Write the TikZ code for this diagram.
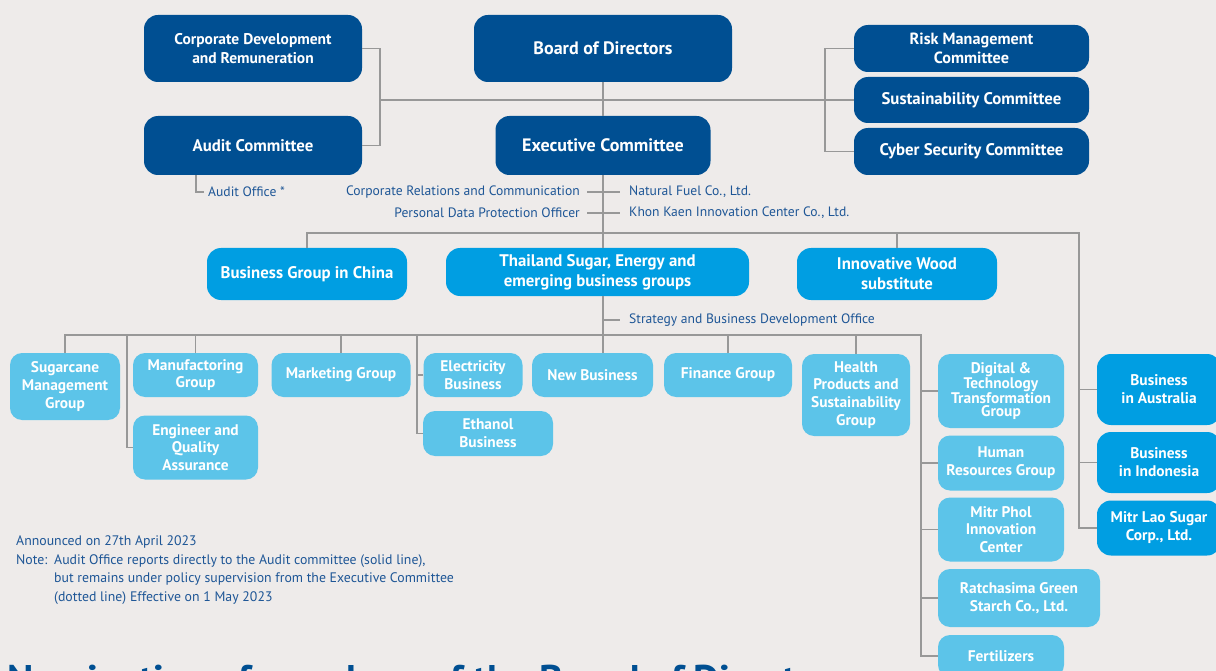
\documentclass[tikz,border=0pt]{standalone}
\usepackage{fontspec}
\setmainfont{PT Sans}
\usetikzlibrary{positioning}

\definecolor{bgcol}{RGB}{238,235,234}
\definecolor{dkblue}{RGB}{0,79,146}
\definecolor{mdblue}{RGB}{0,158,226}
\definecolor{ltblue}{RGB}{92,196,233}
\definecolor{linegrey}{RGB}{152,152,152}
\definecolor{txtblue}{RGB}{30,86,150}

\tikzset{
  orgbox/.style={rounded corners=14pt, text=white, align=center, inner sep=0pt,
    font=\bfseries\fontsize{16.8}{19}\selectfont},
  board/.style={orgbox, fill=dkblue},
  unit/.style={orgbox, fill=mdblue, font=\bfseries\fontsize{16.8}{20}\selectfont},
  group/.style={orgbox, fill=ltblue, rounded corners=12pt,
    font=\bfseries\fontsize{15.4}{17.8}\selectfont},
  sz/.style 2 args={minimum width=#1pt, minimum height=#2pt},
  link/.style={draw=linegrey, line width=1.3pt},
  office/.style={text=txtblue, inner sep=0pt, font=\fontsize{13.6}{15}\selectfont},
}

\begin{document}
\begin{tikzpicture}[x=1pt, y=-1pt]
\fill[bgcol] (0,0) rectangle (1216,671);
\clip (0,0) rectangle (1216,671);

% board and committees
\node[board, sz={258}{67}, font=\bfseries\fontsize{18}{20}\selectfont] (bod) at (603,48.5) {Board of Directors};
\node[board, sz={218}{67}, font=\bfseries\fontsize{15.5}{19}\selectfont] (cdr) at (253,48.5) {Corporate Development\\and Remuneration};
\node[board, sz={218}{59}] (aud) at (253,145.5) {Audit Committee};
\node[board, sz={215}{59}, font=\bfseries\fontsize{18}{20}\selectfont] (exe) at (603,145.5) {Executive Committee};
\node[board, sz={235}{47}, font=\bfseries\fontsize{16.2}{19}\selectfont] (rmc) at (971.5,48.5) {Risk Management\\Committee};
\node[board, sz={235}{46}] (sus) at (971.5,100) {Sustainability Committee};
\node[board, sz={235}{47}] (csc) at (971.5,151.5) {Cyber Security Committee};

\coordinate (lj) at (380,100);
\coordinate (rj) at (825,100);
\draw[link] (cdr.east) -| (lj) |- (aud.east);
\draw[link] (rmc.west) -| (rj) |- (csc.west);
\draw[link] (lj) -- (sus.west);
\draw[link] (bod.south) -- (exe.north);

% offices under the committees
\node[office, anchor=west] (aoff) at (208,192) {Audit Office *};
\draw[link] (aud.south -| 196,0) |- ([xshift=-4pt]aoff.west);

\node[office, anchor=east] (crc) at (580,192) {Corporate Relations and Communication};
\node[office, anchor=east] (pdp) at (580,213) {Personal Data Protection Officer};
\node[office, anchor=west] (nfc) at (629,192) {Natural Fuel Co., Ltd.};
\node[office, anchor=west] (kkic) at (629,213) {Khon Kaen Innovation Center Co., Ltd.};
\draw[link, shorten <=7pt, shorten >=9pt] (crc.east) -- (nfc.west);
\draw[link, shorten <=7pt, shorten >=9pt] (pdp.east) -- (kkic.west);

% business groups
\coordinate (spine) at (603,233);
\coordinate (rt) at (1079,233);
\node[unit, sz={200}{52}] (china) at (307,274) {Business Group in China};
\node[unit, sz={303}{48}] (tsg) at (597.5,272) {Thailand Sugar, Energy and\\emerging business groups};
\node[unit, sz={200}{52}] (iws) at (897,274) {Innovative Wood\\substitute};
\node[unit, sz={124}{71}, font=\bfseries\fontsize{15.4}{18}\selectfont] (aus) at (1159,389.5) {Business\\in Australia};
\node[unit, sz={124}{61}, font=\bfseries\fontsize{15.4}{18}\selectfont] (indo) at (1159,462.5) {Business\\in Indonesia};
\node[unit, sz={124}{55}, font=\bfseries\fontsize{15.4}{18}\selectfont] (laos) at (1159,528) {Mitr Lao Sugar\\Corp., Ltd.};

\draw[link] (exe.south -| spine) -- (spine);
\draw[link] (china.north) |- (rt) |- (laos.west);
\draw[link] (tsg.north -| spine) -- (spine);
\draw[link] (iws.north) -- (iws.north |- rt);
\draw[link] (aus.west) -- (aus.west -| rt);
\draw[link] (indo.west) -- (indo.west -| rt);

\node[office, anchor=west] (sbd) at (629,320) {Strategy and Business Development Office};
\draw[link] (sbd.west -| spine) -- ([xshift=-9pt]sbd.west);

% groups under Thailand Sugar
\node[group, sz={110}{67}] (scm) at (65,386.5) {Sugarcane\\Management\\Group};
\node[group, sz={125}{44}] (mfg) at (195.5,375) {Manufactoring\\Group};
\node[group, sz={125}{64}] (eqa) at (195.5,447.5) {Engineer and\\Quality\\Assurance};
\node[group, sz={139}{44}] (mkt) at (341,375) {Marketing Group};
\node[group, sz={99}{44}] (ele) at (473,375) {Electricity\\Business};
\node[group, sz={130}{45}] (eth) at (488,433.5) {Ethanol\\Business};
\node[group, sz={121}{44}] (nbz) at (592.5,375) {New Business};
\node[group, sz={128}{44}] (fin) at (728,375) {Finance Group};
\node[group, sz={108}{82}] (hps) at (856,395) {Health\\Products and\\Sustainability\\Group};
\node[group, sz={126}{74}, font=\bfseries\fontsize{15.4}{13.3}\selectfont] (dtt) at (1001,391) {Digital \&\\Technology\\Transformation\\Group};
\node[group, sz={126}{55}] (hrg) at (1001,463) {Human\\Resources Group};
\node[group, sz={126}{64}] (mpi) at (1001,529.5) {Mitr Phol\\Innovation\\Center};
\node[group, sz={162}{58}] (rgs) at (1019,598) {Ratchasima Green\\Starch Co., Ltd.};
\node[group, sz={126}{42}] (fert) at (1001,656) {Fertilizers};

\coordinate (gr) at (921,335);
\coordinate (ej) at (127,335);
\coordinate (ee) at (417,335);
\draw[link] (tsg.south -| spine) -- (nbz.north -| spine);
\draw[link] (scm.north) |- (gr) |- (fert.west);
\foreach \g in {mfg, mkt, fin, hps}
  \draw[link] (\g.north) -- (\g.north |- gr);
\draw[link] (eqa.west) -| (ej);
\draw[link] (eth.west) -| (ee);
\draw[link] (ele.west) -- (ele.west -| ee);
\foreach \g in {dtt, hrg, mpi, rgs}
  \draw[link] (\g.west) -- (\g.west -| gr);

% notes
\node[office, anchor=west, font=\fontsize{13.8}{18.6}\selectfont, align=left] (notes) at (16,570)
  {Announced on 27th April 2023\\
   \makebox[38pt][l]{Note:}Audit Office reports directly to the Audit committee (solid line),\\
   \hspace*{38pt}but remains under policy supervision from the Executive Committee\\
   \hspace*{38pt}(dotted line) Effective on 1 May 2023};

\node[anchor=base west, inner sep=0pt, text=dkblue, font=\bfseries\fontsize{40}{44}\selectfont] (title) at (7,693)
  {Nomination of members of the Board of Directors};
\end{tikzpicture}
\end{document}
